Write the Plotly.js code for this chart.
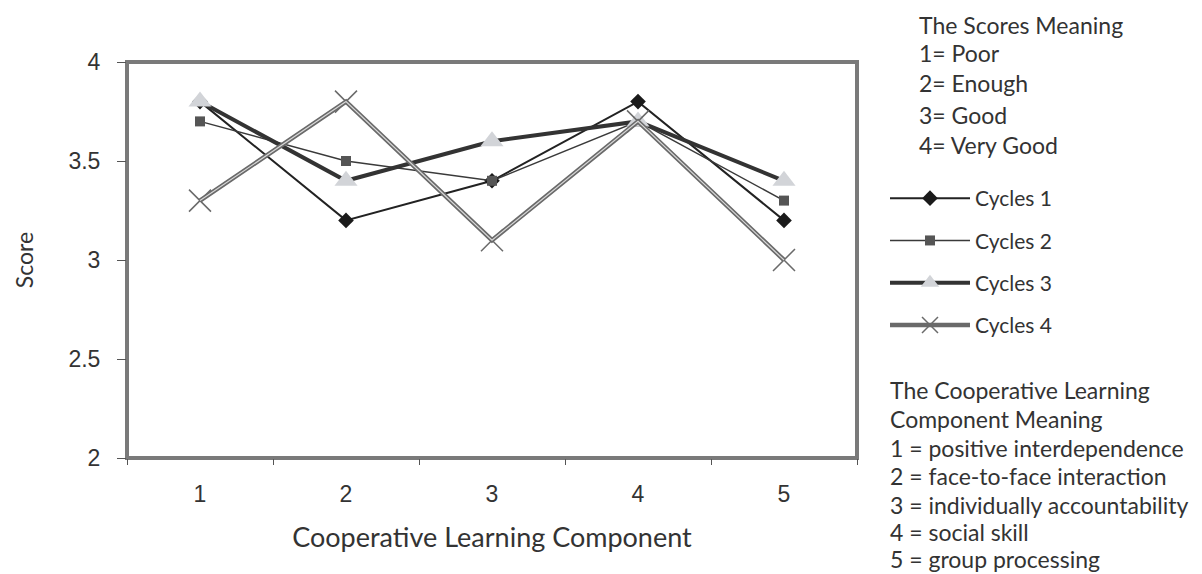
<!DOCTYPE html>
<html>
<head>
<meta charset="utf-8">
<script src="https://cdn.plot.ly/plotly-3.0.1.min.js"></script>
<style>html,body{margin:0;padding:0;background:#fff;}#chart{width:1202px;height:574px;}</style>
</head>
<body>
<div id="chart"></div>
<script>
// ---- data ----
var components = ["1", "2", "3", "4", "5"];
var cycle1 = [3.8, 3.2, 3.4, 3.8, 3.2];
var cycle2 = [3.7, 3.5, 3.4, 3.7, 3.3];
var cycle3 = [3.8, 3.4, 3.6, 3.7, 3.4];
var cycle4 = [3.3, 3.8, 3.1, 3.7, 3.0];
var seriesNames = ["Cycles 1", "Cycles 2", "Cycles 3", "Cycles 4"];
var yTicks = [2, 2.5, 3, 3.5, 4];
var scoreMeaningTitle = "The Scores Meaning";
var scoreMeaning = ["1= Poor", "2= Enough", "3= Good", "4= Very Good"];
var componentMeaningTitle = ["The Cooperative Learning", "Component Meaning"];
var componentMeaning = ["1 = positive interdependence", "2 = face-to-face interaction",
  "3 = individually accountability", "4 = social skill", "5 = group processing"];

// ---- layout helpers (pixel -> paper) ----
var M = {l: 127, r: 345, t: 62, b: 116};
var W = 1202, H = 574;
var PW = W - M.l - M.r, PH = H - M.t - M.b;
function px2x(px) { return (px - M.l) / PW; }
function px2y(py) { return (H - M.b - py) / PH; }

var sideFont = {family: "Lato, 'Open Sans', sans-serif", size: 23, color: "#333"};
var legendFont = {family: "Lato, 'Open Sans', sans-serif", size: 21, color: "#333"};

var traces = [
  {x: components, y: cycle1, name: seriesNames[0], mode: "lines+markers", legendgroup: "c1",
   line: {color: "#222", width: 2}, marker: {symbol: "diamond", size: 12, color: "#1a1a1a"}},
  {x: components, y: cycle2, name: seriesNames[1], mode: "lines+markers", legendgroup: "c2",
   line: {color: "#3a3a3a", width: 1.5}, marker: {symbol: "square", size: 10, color: "#555"}},
  {x: components, y: cycle3, name: seriesNames[2], mode: "lines+markers", legendgroup: "c3",
   line: {color: "#333", width: 4}, marker: {symbol: "triangle-up", size: 20, color: "#d2d4d8"}},
  {x: components, y: cycle4, name: seriesNames[3], mode: "lines+markers", legendgroup: "c4",
   line: {color: "#6a6a6a", width: 4.5},
   marker: {symbol: "x-thin-open", size: 22, line: {color: "#b0b0b0", width: 1.5}}},
  {x: components, y: cycle4, name: seriesNames[3], mode: "lines", legendgroup: "c4", showlegend: false,
   line: {color: "#d8d8d8", width: 1.2}, hoverinfo: "skip"}
];

var annotations = [];
var smRows = [25, 53, 83, 115, 145];
[scoreMeaningTitle].concat(scoreMeaning).forEach(function (t, i) {
  annotations.push({xref: "paper", yref: "paper", x: px2x(917), y: px2y(smRows[i]),
    xanchor: "left", yanchor: "middle", text: t, showarrow: false, font: sideFont});
});
var cmRows = [390, 419, 448, 476, 505, 532, 559];
componentMeaningTitle.concat(componentMeaning).forEach(function (t, i) {
  annotations.push({xref: "paper", yref: "paper", x: px2x(888), y: px2y(cmRows[i]),
    xanchor: "left", yanchor: "middle", text: t, showarrow: false, font: sideFont});
});

var layout = {
  width: W, height: H,
  margin: M,
  paper_bgcolor: "#fff", plot_bgcolor: "#fff",
  showlegend: true,
  legend: {x: px2x(885), y: px2y(178), xanchor: "left", yanchor: "top", traceorder: "grouped",
    tracegroupgap: 12, itemwidth: 80, font: legendFont, bgcolor: "rgba(0,0,0,0)"},
  xaxis: {type: "category", range: [-0.5, 4.5], tickson: "boundaries", ticks: "outside", ticklen: 6,
    tickcolor: "#555", showgrid: false, zeroline: false, showline: false, ticklabelstandoff: 20,
    tickfont: {family: "'Liberation Sans', Arial, sans-serif", size: 23, color: "#333"},
    title: {text: "Cooperative Learning Component", standoff: 22,
      font: {family: "Lato, 'Open Sans', sans-serif", size: 27, color: "#333"}}},
  yaxis: {range: [2, 4], tickvals: yTicks, ticks: "outside", ticklen: 9, tickcolor: "#555",
    showgrid: false, zeroline: false, showline: false, ticklabelstandoff: 12,
    tickfont: {family: "'Liberation Sans', Arial, sans-serif", size: 23, color: "#333"},
    title: {text: "Score", standoff: 28,
      font: {family: "Lato, 'Open Sans', sans-serif", size: 23, color: "#333"}}},
  shapes: [{type: "rect", xref: "paper", yref: "paper", x0: 0, x1: 1, y0: 0, y1: 1,
    line: {color: "#7a7a7a", width: 4}, layer: "below"}],
  annotations: annotations
};

Plotly.newPlot("chart", traces, layout, {displayModeBar: false, staticPlot: true});
</script>
</body>
</html>
